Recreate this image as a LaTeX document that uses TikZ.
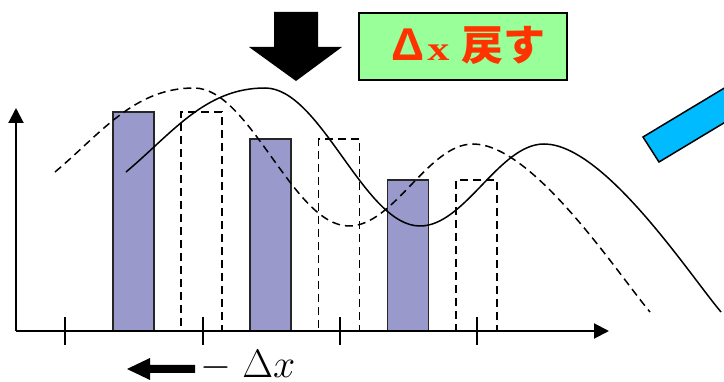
\documentclass[tikz,border=0pt]{standalone}
\usepackage{fontspec}
\usetikzlibrary{positioning,arrows.meta}
\newfontfamily\latinsans{Liberation Sans}
\newfontfamily\latinserif{Liberation Serif}
\newfontfamily\jpfont{Noto Sans CJK JP}
\definecolor{barblue}{RGB}{153,153,204}
\definecolor{boxgreen}{RGB}{153,255,153}
\definecolor{labelred}{RGB}{255,51,0}
\definecolor{plateblue}{RGB}{0,187,255}

\begin{document}
\begin{tikzpicture}[
  x=1pt, y=-1pt,
  bar/.style={draw=black!85, fill=barblue, line width=1.5pt, minimum width=41pt, inner sep=0pt, outer sep=0pt, anchor=south},
  ghost/.style={draw, dash pattern=on 8pt off 5pt, line width=1.5pt, minimum width=41pt, inner sep=0pt, outer sep=0pt, anchor=south},
  axisline/.style={line width=2pt, -{Triangle[length=15pt,width=15pt]}},
  tickmark/.style={line width=2pt},
  wave/.style={line width=1.5pt},
  block/.style={fill=black}
]
\useasboundingbox (0,0) rectangle (724,382);
\clip (0,0) rectangle (724,382);
% bars and shifted copies
\node[bar, minimum height=219pt] (bar1) at (133.5,331) {};
\node[bar, minimum height=192pt] (bar2) at (270.5,331) {};
\node[bar, minimum height=151pt] (bar3) at (408,331) {};
\node[ghost, minimum height=219pt] (ghost1) at (201.5,331) {};
\node[ghost, minimum height=192pt] (ghost2) at (339,331) {};
\node[ghost, minimum height=151pt] (ghost3) at (476.5,331) {};
% curves
\draw[wave] (126,172) .. controls (172,133.4) and (205,88) .. (265,88)
  .. controls (321,88) and (364,226) .. (420,226)
  .. controls (465,226) and (499,144) .. (544,144)
  .. controls (604,144) and (689,274) .. (721,312);
\draw[wave, dash pattern=on 8pt off 5pt, xshift=-71pt] (126,172) .. controls (172,133.4) and (205,88) .. (265,88)
  .. controls (321,88) and (364,226) .. (420,226)
  .. controls (465,226) and (499,144) .. (544,144)
  .. controls (604,144) and (689,274) .. (721,312);
% axes
\coordinate (origin) at (16,331);
\coordinate (xend) at (609,331);
\coordinate (yend) at (16,108);
\draw[axisline] (origin) -- (xend);
\draw[axisline] (origin) -- (yend);
\draw[tickmark] (65,317) -- (65,345);
\draw[tickmark] (203,317) -- (203,345);
\draw[tickmark] (340,317) -- (340,345);
\draw[tickmark] (477,317) -- (477,345);
% arrows and labels
\fill[block] (274,12) -- (318,12) -- (318,47) -- (342,47) -- (296,81) -- (249,47) -- (274,47) -- cycle;
\node[draw, line width=1.5pt, fill=boxgreen, minimum width=208pt, minimum height=67pt, inner sep=0pt] (shiftbox) at (463,46.5) {};
\node[anchor=base west, inner sep=0pt, text=labelred] (shifttext) at (391,61)
  {{\latinsans\bfseries\fontsize{46}{46}\selectfont Δ}\hspace{3pt}{\latinserif\bfseries\fontsize{34}{34}\selectfont\scalebox{1.3}[1]{x}}\hspace{12pt}{\jpfont\bfseries\fontsize{42}{42}\selectfont 戻す}};
\fill[block] (127,369) -- (150,358) -- (150,365) -- (195,365) -- (195,373) -- (150,373) -- (150,380) -- cycle;
\node[anchor=base west, inner sep=0pt] (shiftlabel) at (200,378) {\scalebox{1.6}{\fontsize{24.88}{30}\selectfont$-\hspace{7pt}\Delta x$}};
\draw[fill=plateblue, line width=1.5pt] (643,137) -- (659,162) -- (762,100) -- (746,75) -- cycle;
\end{tikzpicture}
\end{document}
